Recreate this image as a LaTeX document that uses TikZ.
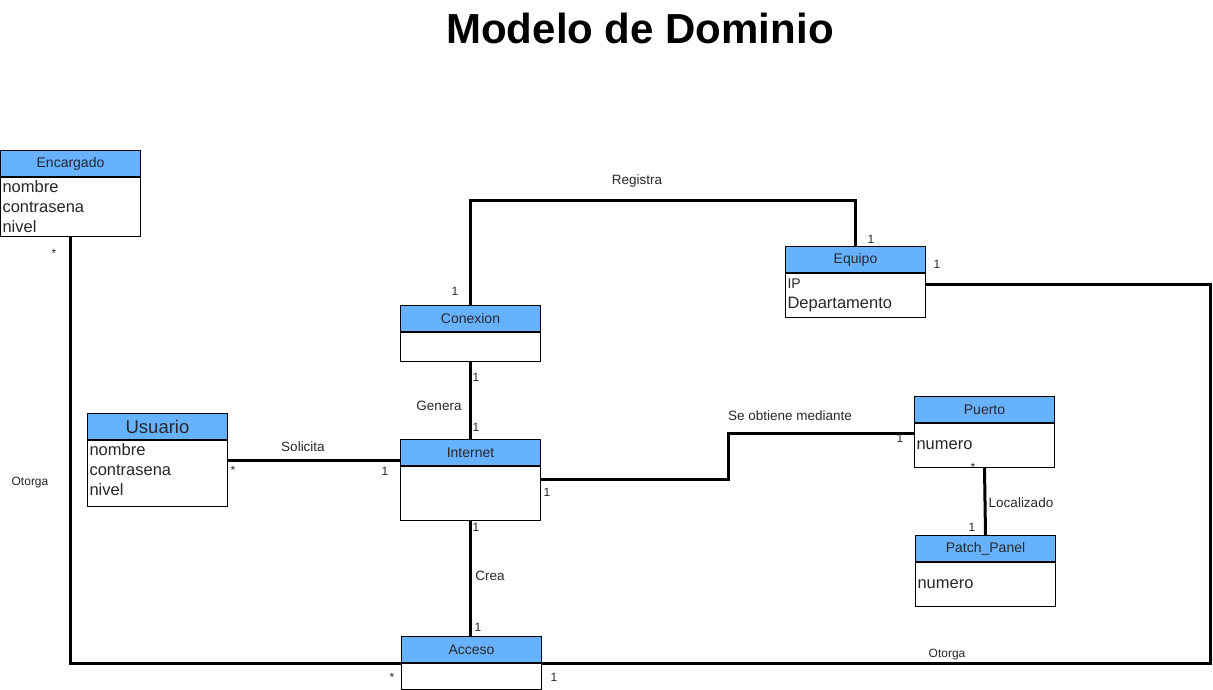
\documentclass[tikz,border=0pt]{standalone}
\usepackage{fontspec}
\setmainfont{Liberation Sans}
\definecolor{hdrblue}{RGB}{102,178,255}
\definecolor{txt}{RGB}{40,40,40}
\begin{document}
\begin{tikzpicture}[x=1pt,y=-1pt,
  hdr/.style={draw=black, line width=1pt, fill=hdrblue, minimum width=140pt, minimum height=26pt, anchor=north west, inner sep=0pt, text=txt, font=\fontsize{14}{16}\selectfont},
  body/.style={draw=black, line width=1pt, fill=white, minimum width=140pt, anchor=north west, inner sep=2pt, text width=136pt, align=left, text=txt, font=\fontsize{16.5}{20}\selectfont},
  conn/.style={draw=black, line width=3pt},
  lbl/.style={inner sep=0pt, text=txt, font=\fontsize{13.5}{15}\selectfont},
  mult/.style={inner sep=0pt, text=txt, font=\fontsize{12}{14}\selectfont}]
\useasboundingbox (0,0) rectangle (1213,689);
\fill[white] (0,0) rectangle (1213,689);
\node[font=\bfseries\fontsize{42}{46}\selectfont, text=black] (title) at (640,28) {Modelo de Dominio};

% Encargado
\node[hdr] (enc) at (0,150) {Encargado};
\node[body, minimum height=59pt] (encb) at (enc.south west) {nombre\\contrasena\\nivel};
% Equipo
\node[hdr] (eq) at (785,246) {Equipo};
\node[body, minimum height=44pt] (eqb) at (eq.south west) {{\fontsize{14}{16}\selectfont IP}\\Departamento};
% Conexion
\node[hdr] (con) at (400,305) {Conexion};
\node[body, minimum height=29pt] (conb) at (con.south west) {};
% Usuario
\node[hdr, font=\fontsize{18.5}{20}\selectfont] (usr) at (87,413) {Usuario};
\node[body, minimum height=66pt] (usrb) at (usr.south west) {nombre\\contrasena\\nivel\par\vspace{7pt}};
% Internet
\node[hdr] (int) at (400,439) {Internet};
\node[body, minimum height=54pt] (intb) at (int.south west) {};
% Puerto
\node[hdr] (pto) at (914,396) {Puerto};
\node[body, minimum height=44pt] (ptob) at (pto.south west) {numero};
% Patch_Panel
\node[hdr] (pp) at (915,535) {Patch\_Panel};
\node[body, minimum height=44pt] (ppb) at (pp.south west) {numero};
% Acceso
\node[hdr] (acc) at (401,636) {Acceso};
\node[body, minimum height=26pt] (accb) at (acc.south west) {};

% connectors
\draw[conn] (encb.south) |- (acc.south west);
\draw[conn] ([yshift=-11pt]eqb.north east) -- ++(284,0) |- (acc.south east);
\draw[conn] (con.north) -- ++(0,-105) -| (eq.north);
\draw[conn] (conb.south) -- (int.north);
\draw[conn] ([yshift=-20pt]usrb.north east) -- ([yshift=-20pt]usrb.north east -| int.west);
\draw[conn] ([yshift=-13pt]intb.north east) -- ++(187,0) |- ([yshift=-10pt]ptob.north west);
\draw[conn] (ptob.south) -- (pp.north);
\draw[conn] (intb.south) -- (intb.south |- acc.north);

% labels
\node[lbl] (l1) at (637,181) {Registra};
\node[lbl] (l2) at (439,406) {Genera};
\node[lbl] (l3) at (303,447) {Solicita};
\node[lbl] (l4) at (790,416) {Se obtiene mediante};
\node[lbl] (l5) at (1021,503) {Localizado};
\node[lbl] (l6) at (490,576) {Crea};
\node[mult] (l7) at (30,483) {Otorga};
\node[mult] (l8) at (947,655) {Otorga};

% multiplicities
\node[mult] (m1) at (54,253) {*};
\node[mult] (m2) at (392,677) {*};
\node[mult] (m3) at (937,264) {1};
\node[mult] (m4) at (554,677) {1};
\node[mult] (m5) at (455,291) {1};
\node[mult] (m6) at (871,239) {1};
\node[mult] (m7) at (476,377) {1};
\node[mult] (m8) at (476,427) {1};
\node[mult] (m9) at (233,470) {*};
\node[mult] (m10) at (385,471) {1};
\node[mult] (m11) at (547,492) {1};
\node[mult] (m12) at (900,438) {1};
\node[mult] (m13) at (973,467) {*};
\node[mult] (m14) at (972,527) {1};
\node[mult] (m15) at (476,527) {1};
\node[mult] (m16) at (478,627) {1};
\end{tikzpicture}
\end{document}
